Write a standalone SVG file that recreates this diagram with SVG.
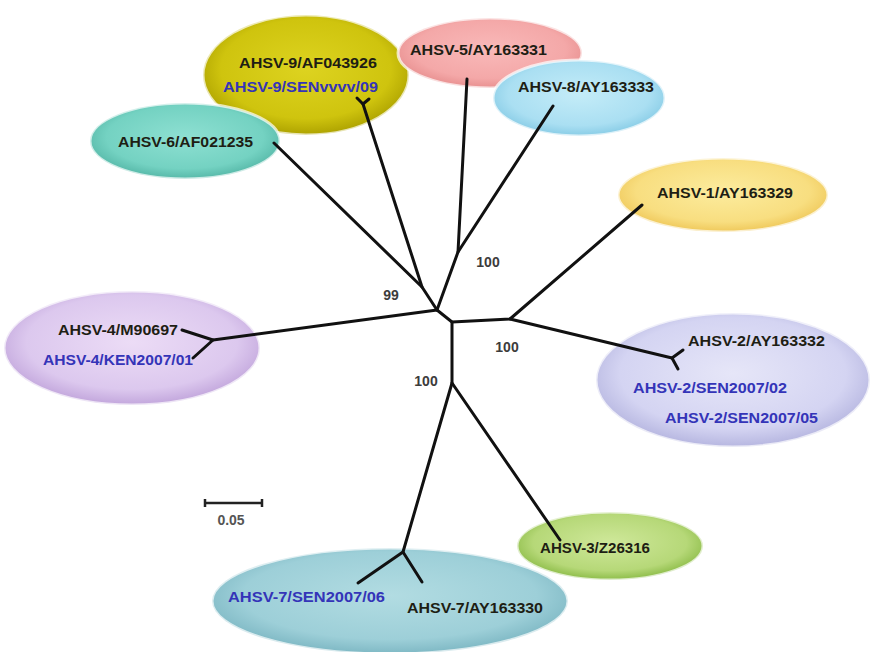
<svg xmlns="http://www.w3.org/2000/svg" width="873" height="652" viewBox="0 0 873 652">
<defs>
<radialGradient id="g9" cx="50%" cy="45%" r="55%"><stop offset="0" stop-color="#ddd320"/><stop offset="0.75" stop-color="#cfc40e"/><stop offset="1" stop-color="#ada200"/></radialGradient>
<radialGradient id="g5" cx="50%" cy="45%" r="55%"><stop offset="0" stop-color="#f9b9b9"/><stop offset="0.75" stop-color="#f4a8a8"/><stop offset="1" stop-color="#e89090"/></radialGradient>
<radialGradient id="g8" cx="50%" cy="45%" r="55%"><stop offset="0" stop-color="#c4ecf8"/><stop offset="0.75" stop-color="#aadff2"/><stop offset="1" stop-color="#88cce6"/></radialGradient>
<radialGradient id="g6" cx="50%" cy="45%" r="55%"><stop offset="0" stop-color="#8ee0d2"/><stop offset="0.75" stop-color="#74d2c2"/><stop offset="1" stop-color="#56b8a8"/></radialGradient>
<radialGradient id="g1" cx="50%" cy="45%" r="55%"><stop offset="0" stop-color="#fcec9e"/><stop offset="0.75" stop-color="#f8de80"/><stop offset="1" stop-color="#efc85a"/></radialGradient>
<radialGradient id="g4" cx="50%" cy="45%" r="55%"><stop offset="0" stop-color="#ecdcf6"/><stop offset="0.75" stop-color="#dcc8ee"/><stop offset="1" stop-color="#c2a6dc"/></radialGradient>
<radialGradient id="g2" cx="50%" cy="45%" r="55%"><stop offset="0" stop-color="#e6e6f8"/><stop offset="0.75" stop-color="#d4d4f2"/><stop offset="1" stop-color="#b6b6e0"/></radialGradient>
<radialGradient id="g3" cx="50%" cy="45%" r="55%"><stop offset="0" stop-color="#cfe89a"/><stop offset="0.75" stop-color="#b6d878"/><stop offset="1" stop-color="#8cbc48"/></radialGradient>
<radialGradient id="g7" cx="50%" cy="45%" r="55%"><stop offset="0" stop-color="#b2dce2"/><stop offset="0.75" stop-color="#9dcfd8"/><stop offset="1" stop-color="#7eb8c4"/></radialGradient>
</defs>
<style>
.bub{stroke:#ffffff;stroke-opacity:0.7;stroke-width:3}
.lbl{font-family:"Liberation Sans",Arial,sans-serif;font-weight:bold;font-size:14px;fill:#1e1e14}
.blu{fill:#3434b8}
.br{fill:none;stroke:#111;stroke-width:3;stroke-linecap:round;stroke-linejoin:round}
.bs{font-family:"Liberation Sans",Arial,sans-serif;font-weight:bold;font-size:14px;fill:#3c3c3c}
</style>
<rect width="873" height="652" fill="#ffffff"/>

<g id="node-ahsv9">
<ellipse class="bub" cx="306" cy="75" rx="103" ry="60" fill="url(#g9)"/>
<text class="lbl" x="239" y="68" textLength="138" lengthAdjust="spacingAndGlyphs">AHSV-9/AF043926</text>
<text class="lbl blu" x="223" y="92" textLength="155" lengthAdjust="spacingAndGlyphs">AHSV-9/SENvvvv/09</text>
</g>
<g id="node-ahsv5">
<ellipse class="bub" cx="490" cy="53" rx="92" ry="35" fill="url(#g5)"/>
<text class="lbl" x="410" y="55" textLength="137" lengthAdjust="spacingAndGlyphs">AHSV-5/AY163331</text>
</g>
<g id="node-ahsv8">
<ellipse class="bub" cx="579" cy="98" rx="86" ry="38" fill="url(#g8)"/>
<text class="lbl" x="518" y="92" textLength="136" lengthAdjust="spacingAndGlyphs">AHSV-8/AY163333</text>
</g>
<g id="node-ahsv6">
<ellipse class="bub" cx="185" cy="141" rx="95" ry="38" fill="url(#g6)"/>
<text class="lbl" x="118" y="147" textLength="135" lengthAdjust="spacingAndGlyphs">AHSV-6/AF021235</text>
</g>
<g id="node-ahsv1">
<ellipse class="bub" cx="723" cy="195" rx="105" ry="37" fill="url(#g1)"/>
<text class="lbl" x="657" y="198" textLength="136" lengthAdjust="spacingAndGlyphs">AHSV-1/AY163329</text>
</g>
<g id="node-ahsv4">
<ellipse class="bub" cx="132" cy="348" rx="128" ry="57" fill="url(#g4)"/>
<text class="lbl" x="58" y="335" textLength="120" lengthAdjust="spacingAndGlyphs">AHSV-4/M90697</text>
<text class="lbl blu" x="43" y="365" textLength="150" lengthAdjust="spacingAndGlyphs">AHSV-4/KEN2007/01</text>
</g>
<g id="node-ahsv2">
<ellipse class="bub" cx="733" cy="380" rx="137" ry="67" fill="url(#g2)"/>
<text class="lbl" x="688" y="346" textLength="137" lengthAdjust="spacingAndGlyphs">AHSV-2/AY163332</text>
<text class="lbl blu" x="633" y="393" textLength="154" lengthAdjust="spacingAndGlyphs">AHSV-2/SEN2007/02</text>
<text class="lbl blu" x="665" y="423" textLength="153" lengthAdjust="spacingAndGlyphs">AHSV-2/SEN2007/05</text>
</g>
<g id="node-ahsv3">
<ellipse class="bub" cx="610" cy="546" rx="93" ry="34" fill="url(#g3)"/>
<text class="lbl" x="540" y="553" textLength="110" lengthAdjust="spacingAndGlyphs">AHSV-3/Z26316</text>
</g>
<g id="node-ahsv7">
<ellipse class="bub" cx="390" cy="601" rx="178" ry="53" fill="url(#g7)"/>
<text class="lbl blu" x="228" y="602" textLength="157" lengthAdjust="spacingAndGlyphs">AHSV-7/SEN2007/06</text>
<text class="lbl" x="407" y="613" textLength="136" lengthAdjust="spacingAndGlyphs">AHSV-7/AY163330</text>
</g>

<g id="connectors">
<polyline class="br" points="213,340 437,310 452,322 510,319 642,205"/>
<polyline class="br" points="510,319 672,358"/>
<polyline class="br" points="683,350 672,358 678,369"/>
<polyline class="br" points="182,330 213,340 193,358"/>
<polyline class="br" points="452,322 452,383 403,552"/>
<polyline class="br" points="358,583 403,552 422,582"/>
<polyline class="br" points="452,383 560,540"/>
<polyline class="br" points="437,310 422,287 274,143"/>
<polyline class="br" points="422,287 363,104"/>
<polyline class="br" points="357,98 363,104 369,99"/>
<polyline class="br" points="437,310 458,252 467,79"/>
<polyline class="br" points="458,252 553,106"/>
</g>

<g id="bootstrap">
<text class="bs" x="391" y="300" text-anchor="middle">99</text>
<text class="bs" x="488" y="267" text-anchor="middle">100</text>
<text class="bs" x="507" y="352" text-anchor="middle">100</text>
<text class="bs" x="426" y="386" text-anchor="middle">100</text>
</g>

<g id="scale">
<line x1="205" y1="503" x2="262" y2="503" stroke="#222" stroke-width="2.5"/>
<line x1="205" y1="499" x2="205" y2="507" stroke="#222" stroke-width="2.5"/>
<line x1="262" y1="499" x2="262" y2="507" stroke="#222" stroke-width="2.5"/>
<text class="bs" x="231" y="525" text-anchor="middle" style="fill:#555">0.05</text>
</g>
</svg>
